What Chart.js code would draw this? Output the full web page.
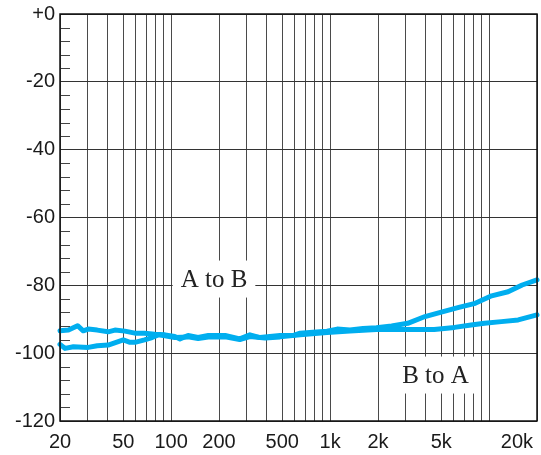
<!DOCTYPE html>
<html><head><meta charset="utf-8">
<script src="https://cdn.jsdelivr.net/npm/chart.js@4"></script>
<style>html,body{margin:0;padding:0;background:#fff;overflow:hidden}#wrap{width:541px;height:455px}</style>
</head><body><div id="wrap"><canvas id="c" width="541" height="455"></canvas></div>
<script>
// ---- data ----
const seriesNames = ['A to B', 'B to A'];
const freqAtoB = [20,22.6,25.8,28,30.1,34.3,40.2,44.3,51.2,59.2,68,78.8,91.5,105.3,113.6,127.7,147.8,171.3,218.8,270,313,362,418,484,584,647,780,956,1107,1333,1610,1953,2436,3078,3950,5070,6447,8175,10370,13160,16140,20000];
const dbAtoB   = [-93.4,-93.2,-91.9,-93.4,-92.9,-93.2,-93.7,-93.2,-93.5,-94.1,-94.1,-94.4,-94.6,-95.1,-95.8,-94.8,-95.4,-94.8,-94.8,-95.8,-94.6,-95.4,-95.1,-94.8,-94.8,-94.1,-93.8,-93.5,-92.9,-93.2,-92.7,-92.5,-92.0,-91.2,-89.2,-87.8,-86.5,-85.3,-83.1,-81.9,-79.9,-78.4];
const freqBtoA = [20,21.5,24.3,30.1,34.3,40.2,46.5,50,55.1,59.2,68,75.9,82.9,91.5,105.3,127.7,147.8,175.5,218.8,270,313,390,484,647,956,1333,1953,2957,4513,6056,7704,9350,11950,15230,20000];
const dbBtoA   = [-97.4,-98.6,-98.1,-98.3,-97.8,-97.6,-96.6,-96.1,-96.8,-96.8,-96.1,-95.4,-94.6,-94.9,-95.4,-95.2,-95.7,-95.2,-95.2,-96.0,-95.1,-95.5,-95.2,-94.6,-93.9,-93.5,-93.0,-93.0,-93.0,-92.4,-91.7,-91.2,-90.7,-90.2,-88.7];
const xTickValues = [20,50,100,200,500,1000,2000,5000,20000];
const xTickLabels = ['20','50','100','200','500','1k','2k','5k','20k'];
const yTickValues = [0,-20,-40,-60,-80,-100,-120];
const yTickLabels = ['+0','-20','-40','-60','-80','-100','-120'];

// grid frequencies of a log paper: 2..9 of every decade
const gridFreqs = [];
for (let d = 10; d <= 10000; d *= 10) for (let m = 1; m <= 9; m++) { const f = d * m; if (f >= 20 && f <= 20000) gridFreqs.push(f); }
gridFreqs.push(20000);

const toPts = (xs, ys) => xs.map((x, i) => ({x, y: ys[i]}));
const LINE = '#00aeef';

const deco = {
  id: 'deco',
  afterDraw(chart) {
    const {ctx, chartArea: a, scales: {x, y}} = chart;
    ctx.save();
    // minor ticks on the left axis
    ctx.strokeStyle = '#444'; ctx.lineWidth = 1;
    for (let v = -116; v < 0; v += 4) {
      if (v % 20 === 0) continue;
      const py = Math.round(y.getPixelForValue(v)) + 0.5;
      ctx.beginPath(); ctx.moveTo(a.left, py); ctx.lineTo(a.left + 10, py); ctx.stroke();
    }
    // frame
    ctx.strokeStyle = '#111'; ctx.lineWidth = 1.5;
    ctx.strokeRect(a.left, a.top, a.right - a.left, a.bottom - a.top);
    // axis labels
    ctx.fillStyle = '#1a1a1a';
    ctx.font = '20px "Liberation Sans", Arial, sans-serif';
    ctx.textAlign = 'right'; ctx.textBaseline = 'middle';
    yTickValues.forEach((v, i) => ctx.fillText(yTickLabels[i], a.left - 5, y.getPixelForValue(v)));
    xTickValues.forEach((v, i) => {
      const last = i === xTickValues.length - 1;
      ctx.textAlign = last ? 'right' : 'center';
      const px = last ? x.getPixelForValue(v) - 4 : x.getPixelForValue(v);
      ctx.fillText(xTickLabels[i], px, a.bottom + 21);
    });
    // series annotations
    const notes = [
      {text: seriesNames[0], f: 186, db: -78.0},
      {text: seriesNames[1], f: 4600, db: -106.3}
    ];
    ctx.font = '25px "Liberation Serif", "Times New Roman", serif';
    ctx.textAlign = 'center'; ctx.textBaseline = 'alphabetic';
    notes.forEach(n => {
      const cx = x.getPixelForValue(n.f), cy = y.getPixelForValue(n.db);
      const w = ctx.measureText(n.text).width + 16;
      ctx.fillStyle = '#fff';
      ctx.fillRect(cx - w / 2, cy - 18, w, 37);
      ctx.fillStyle = '#222';
      ctx.fillText(n.text, cx, cy + 8.5);
    });
    ctx.restore();
  }
};

new Chart(document.getElementById('c'), {
  type: 'line',
  data: {
    datasets: [
      {label: seriesNames[0], data: toPts(freqAtoB, dbAtoB), borderColor: LINE, borderWidth: 5, pointRadius: 0, tension: 0, clip: 3, borderJoinStyle: 'round', borderCapStyle: 'round'},
      {label: seriesNames[1], data: toPts(freqBtoA, dbBtoA), borderColor: LINE, borderWidth: 5, pointRadius: 0, tension: 0, clip: 3, borderJoinStyle: 'round', borderCapStyle: 'round'}
    ]
  },
  options: {
    responsive: false, animation: false, devicePixelRatio: 1,
    layout: {padding: {left: 60, top: 14, right: 4, bottom: 34}},
    plugins: {legend: {display: false}, tooltip: {enabled: false}},
    scales: {
      x: {
        type: 'logarithmic', min: 20, max: 20000,
        afterBuildTicks: s => { s.ticks = gridFreqs.map(v => ({value: v})); },
        ticks: {display: false},
        grid: {color: '#4a4a4a', lineWidth: 1, drawTicks: false},
        border: {display: false}
      },
      y: {
        type: 'linear', min: -120, max: 0,
        afterBuildTicks: s => { s.ticks = yTickValues.map(v => ({value: v})); },
        ticks: {display: false},
        grid: {color: '#333', lineWidth: 1, drawTicks: false},
        border: {display: false}
      }
    }
  },
  plugins: [deco]
});
</script>
</body></html>
